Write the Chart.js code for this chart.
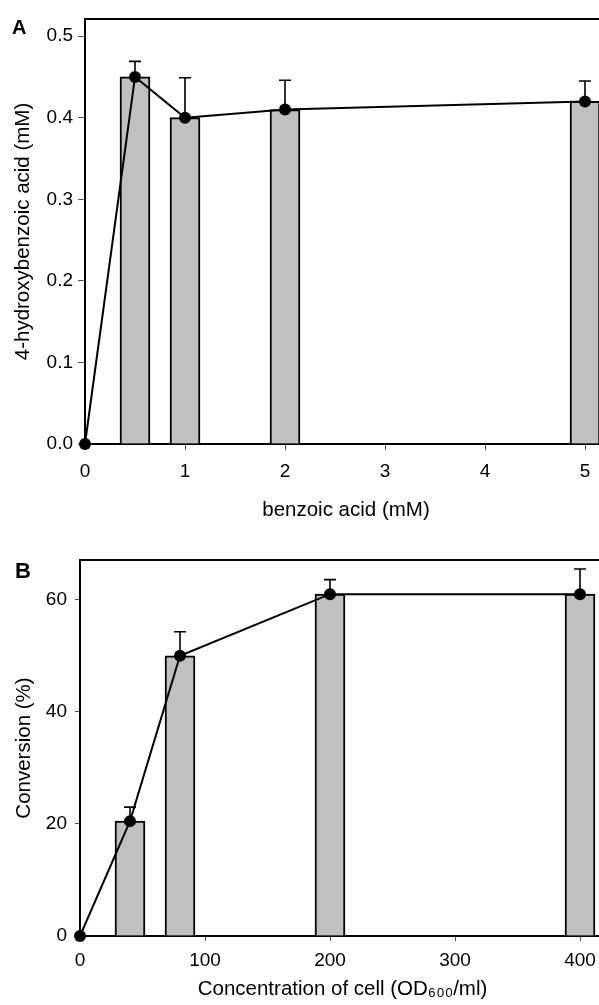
<!DOCTYPE html>
<html><head><meta charset="utf-8">
<script src="https://cdn.jsdelivr.net/npm/chart.js@4.4.0/dist/chart.umd.min.js"></script>
<style>
html,body{margin:0;padding:0;background:#fff;overflow:hidden;width:599px;height:1005px;}
#wrap{position:relative;width:599px;height:1005px;overflow:hidden;background:#fff;}
canvas{position:absolute;left:0;}
#cA{top:0;width:620px;height:530px;}
#cB{top:530px;width:620px;height:475px;}
.lbl{position:absolute;font-family:"Liberation Sans",Arial,sans-serif;font-weight:bold;color:#000;line-height:1;}
</style></head>
<body><div id="wrap">
<canvas id="cA" width="620" height="530"></canvas>
<canvas id="cB" width="620" height="475"></canvas>
<div class="lbl" style="left:12px;top:17px;font-size:20px">A</div>
<div class="lbl" style="left:15px;top:560px;font-size:22px">B</div>
</div>
<script>
// ---- Panel A data ----
const benzoicConc = [0.5, 1, 2, 5];
const hbaMean = [0.45, 0.40, 0.41, 0.42];
const hbaErr = [0.019, 0.049, 0.036, 0.025];
const lineAX = [0, 0.5, 1, 2, 5];
const lineAY = [0, 0.45, 0.40, 0.41, 0.42];
const xTicksA = [0, 1, 2, 3, 4, 5];
const yTicksA = [0, 0.1, 0.2, 0.3, 0.4, 0.5];

// ---- Panel B data ----
const cellConc = [40, 80, 200, 400];
const convMean = [20.5, 50, 61, 61];
const convErr = [2.5, 4.3, 2.6, 4.5];
const lineBX = [0, 40, 80, 200, 400];
const lineBY = [0, 20.5, 50, 61, 61];
const xTicksB = [0, 100, 200, 300, 400];
const yTicksB = [0, 20, 40, 60];

const FONT = '"Liberation Sans", Arial, sans-serif';

const framePlugin = {
  id: 'frame',
  beforeDatasetsDraw(chart) {
    const a = chart.chartArea, ctx = chart.ctx;
    ctx.save();
    ctx.strokeStyle = '#000';
    ctx.lineWidth = 2;
    ctx.strokeRect(a.left, a.top, a.right - a.left, a.bottom - a.top);
    ctx.restore();
  }
};

const errorPlugin = {
  id: 'errbars',
  afterDatasetDraw(chart, args, opts) {
    if (args.index !== 0) return;
    const ctx = chart.ctx, xs = chart.scales.x, ys = chart.scales.y;
    ctx.save();
    ctx.strokeStyle = '#000';
    ctx.lineWidth = 1.6;
    opts.xs.forEach((xv, i) => {
      const px = xs.getPixelForValue(xv);
      const y0 = ys.getPixelForValue(opts.ys[i]);
      const y1 = ys.getPixelForValue(opts.ys[i] + opts.err[i]);
      ctx.beginPath();
      ctx.moveTo(px, y0); ctx.lineTo(px, y1);
      ctx.moveTo(px - 6, y1); ctx.lineTo(px + 6, y1);
      ctx.stroke();
    });
    ctx.restore();
  }
};

function makeChart(id, cfg) {
  return new Chart(document.getElementById(id), {
    data: {
      datasets: [
        {
          type: 'bar',
          data: cfg.barX.map((x, i) => ({x: x, y: cfg.barY[i]})),
          backgroundColor: '#c0c0c0',
          borderColor: '#000',
          borderWidth: 2,
          borderSkipped: 'start',
          barThickness: 30,
          order: 2
        },
        {
          type: 'line',
          data: cfg.lineX.map((x, i) => ({x: x, y: cfg.lineY[i]})),
          borderColor: '#000',
          borderWidth: 2,
          pointRadius: 6,
          pointBackgroundColor: '#000',
          pointBorderWidth: 0,
          tension: 0,
          clip: false,
          order: 1
        }
      ]
    },
    options: {
      responsive: false,
      animation: false,
      events: [],
      layout: {padding: {top: cfg.padTop, right: cfg.padRight, left: 0, bottom: 0}},
      plugins: {
        legend: {display: false},
        tooltip: {enabled: false},
        errbars: {xs: cfg.barX, ys: cfg.barY, err: cfg.err}
      },
      scales: {
        x: {
          type: 'linear',
          offset: false,
          min: 0, max: cfg.xMax,
          afterFit: (s) => { s.height = cfg.xAxisH; },
          afterBuildTicks: (s) => { s.ticks = cfg.xTicks.map(v => ({value: v})); },
          border: {display: false},
          grid: {display: true, offset: false, drawOnChartArea: false, drawTicks: true, tickLength: cfg.xTickLen, color: '#555', lineWidth: 1},
          ticks: {color: '#000', font: {family: FONT, size: 19}, padding: cfg.xTickPad, maxRotation: 0, autoSkip: false,
                  callback: (v) => String(v)},
          title: {display: true, text: cfg.xTitle, color: '#000', font: {family: FONT, size: 20.5}, padding: {top: 0, bottom: cfg.xTitlePad}}
        },
        y: {
          type: 'linear',
          min: 0, max: cfg.yMax,
          afterFit: (s) => { s.width = cfg.yAxisW; },
          afterBuildTicks: (s) => { s.ticks = cfg.yTicks.map(v => ({value: v})); },
          border: {display: false},
          grid: {display: true, drawOnChartArea: false, drawTicks: true, tickLength: cfg.yTickLen, color: '#555', lineWidth: 1},
          ticks: {color: '#000', font: {family: FONT, size: 19}, padding: cfg.yTickPad, autoSkip: false,
                  callback: cfg.yFmt},
          title: {display: true, text: cfg.yTitle, color: '#000', font: {family: FONT, size: 20.5}, padding: {top: cfg.yTitlePad, bottom: 0}}
        }
      }
    },
    plugins: [framePlugin, errorPlugin]
  });
}

makeChart('cA', {
  barX: benzoicConc, barY: hbaMean, err: hbaErr,
  lineX: lineAX, lineY: lineAY,
  xTicks: xTicksA, yTicks: yTicksA,
  xMax: 5.22, yMax: 0.521,
  padTop: 19, padRight: 13,
  xAxisH: 86, yAxisW: 85,
  xTickLen: 6, yTickLen: 7, xTickPad: 10, yTickPad: 5,
  xTitlePad: 7, yTitlePad: 11,
  xTitle: 'benzoic acid (mM)', yTitle: '4-hydroxybenzoic acid (mM)',
  yFmt: (v) => Number(v).toFixed(1)
});

makeChart('cB', {
  barX: cellConc, barY: convMean, err: convErr,
  lineX: lineBX, lineY: lineBY,
  xTicks: xTicksB, yTicks: yTicksB,
  xMax: 420, yMax: 67.1,
  padTop: 30, padRight: 15,
  xAxisH: 69, yAxisW: 80,
  xTickLen: 5, yTickLen: 5, xTickPad: 8, yTickPad: 8,
  xTitlePad: 3, yTitlePad: 12,
  xTitle: 'Concentration of cell (OD\u2086\u2080\u2080/ml)', yTitle: 'Conversion (%)',
  yFmt: (v) => String(v)
});
</script>
</body></html>
